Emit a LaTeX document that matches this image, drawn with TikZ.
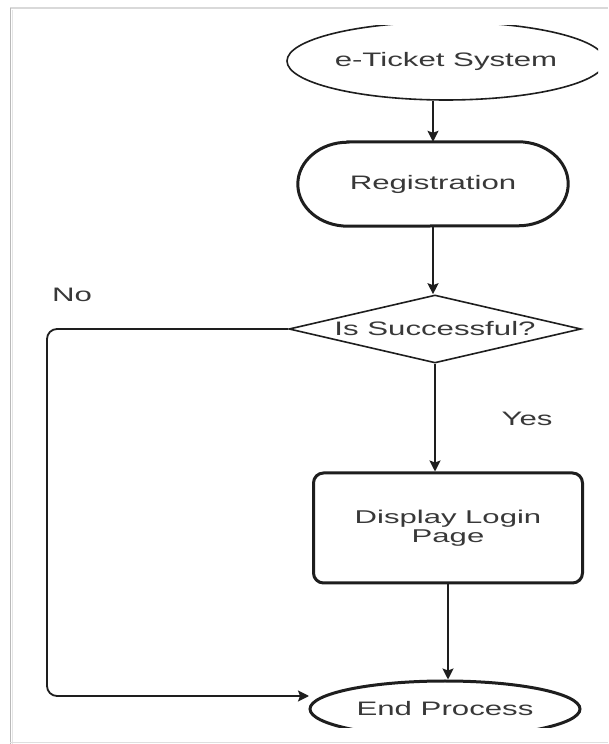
\documentclass[tikz,border=0pt]{standalone}
\usepackage{fontspec}
\setmainfont{Liberation Sans}
\usetikzlibrary{shapes.geometric,arrows.meta,calc}
\definecolor{ink}{HTML}{1E1E1E}
\definecolor{txt}{HTML}{383838}
\newcommand\wide[1]{\scalebox{1.6}[1]{#1}}
\begin{document}
\begin{tikzpicture}[x=1pt,y=1pt,
  lbl/.style={text=txt,font=\fontsize{19.5}{20}\selectfont,inner sep=0pt},
  conn/.style={draw=ink,line width=1.8pt,-{Stealth[length=11pt,width=11pt,inset=2pt]}},
  outl/.style={draw=ink,line width=1.6pt},
  boldl/.style={draw=ink,line width=3pt}]
\useasboundingbox (0,0) rectangle (608,744);
\fill[white] (0,0) rectangle (608,744);
% screenshot frame
\draw[gray!30,line width=1.2pt] (10,736) -- (608,736);
\draw[gray!55,line width=1.8pt] (10.5,0) -- (10.5,736);
\draw[gray!20,line width=1.5pt] (12.5,0) -- (12.5,734);
\draw[gray!25,line width=1.2pt] (10,1.5) -- (608,1.5);
\begin{scope}
\clip (13,16) rectangle (598,718);
\node[lbl, ellipse, outl, minimum width=318, minimum height=78] (sys) at (446,683) {\wide{e-Ticket System}};
\node[lbl, minimum width=270, minimum height=84] (reg) at (433,560) {\wide{Registration}};
\draw[boldl] ($(reg.north west)+(50,0)$) -- ($(reg.north east)+(-50,0)$)
  arc[start angle=90,end angle=-90,x radius=50,y radius=42]
  -- ($(reg.south west)+(50,0)$)
  arc[start angle=270,end angle=90,x radius=50,y radius=42] -- cycle;
\node[lbl, diamond, outl, minimum width=292, minimum height=68, aspect=4.3] (dia) at (435,415) {\wide{Is Successful?}};
\node[lbl, rectangle, boldl, rounded corners=10, minimum width=269, minimum height=110, align=center, font=\fontsize{18.5}{18.5}\selectfont] (disp) at (448,216) {\scalebox{1.68}[1]{Display Login}\\\scalebox{1.68}[1]{Page}};
\node[lbl, ellipse, boldl, minimum width=270, minimum height=56] (endp) at (445,35) {\wide{End Process}};
% connectors
\draw[conn] (reg.north |- sys.south) -- (reg.north);
\draw[conn] (reg.south) -- (reg.south |- dia.north);
\draw[conn] (dia.south) -- (dia.south |- disp.north);
\draw[conn] (disp.south) -- (disp.south |- endp.north);
\coordinate (bend) at (47,48);
\coordinate (noend) at (309,48);
\draw[conn, rounded corners=10] (dia.west) -| (bend) -- (noend);
% labels
\node[lbl] (no) at (72,449) {\wide{No}};
\node[lbl] (yes) at (527,325) {\wide{Yes}};
\end{scope}
\end{tikzpicture}
\end{document}
